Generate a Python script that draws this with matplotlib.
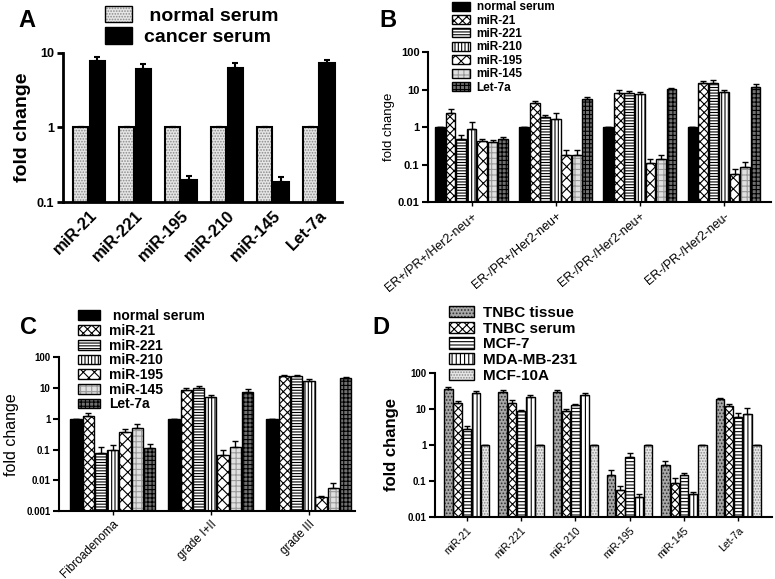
import numpy as np
import matplotlib
matplotlib.use("Agg")
import matplotlib.pyplot as plt
from matplotlib.patches import Patch
from matplotlib.legend_handler import HandlerTuple
from matplotlib.ticker import FixedLocator, NullLocator

plt.rcParams['font.family'] = ['Liberation Sans', 'DejaVu Sans']
plt.rcParams['hatch.linewidth'] = 0.8

# ---- Panel A data ----
a_cats = ['miR-21', 'miR-221', 'miR-195', 'miR-210', 'miR-145', 'Let-7a']
a_series = [' normal serum', 'cancer serum']
a_normal = [1, 1, 1, 1, 1, 1]
a_cancer = [7.8, 6.1, 0.195, 6.3, 0.185, 7.2]
a_normal_err = [0, 0, 0, 0, 0, 0]
a_cancer_err = [1.0, 0.95, 0.028, 0.9, 0.03, 0.7]

# ---- Panel B data ----
b_cats = ['ER+/PR+/Her2-neu+', 'ER-/PR+/Her2-neu+', 'ER-/PR-/Her2-neu+', 'ER-/PR-/Her2-neu-']
b_series = ['normal serum', 'miR-21', 'miR-221', 'miR-210', 'miR-195', 'miR-145', 'Let-7a']
b_vals = [
    [1, 1, 1, 1],
    [2.45, 4.3, 8.2, 14.6],
    [0.47, 1.9, 8.3, 15.0],
    [0.9, 1.63, 7.6, 8.6],
    [0.43, 0.18, 0.107, 0.055],
    [0.41, 0.18, 0.143, 0.087],
    [0.47, 5.5, 10.3, 11.9],
]
b_errs = [
    [0, 0, 0, 0],
    [0.5, 0.7, 1.5, 2.0],
    [0.15, 0.2, 1.0, 2.5],
    [0.45, 0.75, 1.2, 1.3],
    [0.05, 0.06, 0.03, 0.019],
    [0.05, 0.07, 0.04, 0.033],
    [0.07, 0.7, 1.0, 2.0],
]

# ---- Panel C data ----
c_cats = ['Fibroadenoma', 'grade I+II', 'grade III']
c_series = [' normal serum', 'miR-21', 'miR-221', 'miR-210', 'miR-195', 'miR-145', 'Let-7a']
c_vals = [
    [1, 1, 1],
    [1.24, 8.9, 24.5],
    [0.078, 9.8, 24.5],
    [0.098, 5.0, 17.5],
    [0.375, 0.066, 0.0028],
    [0.52, 0.12, 0.0055],
    [0.114, 7.4, 21.0],
]
c_errs = [
    [0, 0, 0],
    [0.36, 0.8, 2.5],
    [0.04, 2.1, 2.5],
    [0.042, 1.0, 1.5],
    [0.085, 0.029, 0.0003],
    [0.18, 0.07, 0.0025],
    [0.036, 1.8, 1.0],
]

# ---- Panel D data ----
d_cats = ['miR-21', 'miR-221', 'miR-210', 'miR-195', 'miR-145', 'Let-7a']
d_series = ['TNBC tissue', 'TNBC serum', 'MCF-7', 'MDA-MB-231', 'MCF-10A']
d_vals = [
    [36, 30, 30, 0.15, 0.28, 18.5],
    [15, 15, 9, 0.056, 0.09, 12.4],
    [2.8, 9, 12.5, 0.47, 0.15, 6.1],
    [28, 22, 24, 0.035, 0.044, 7.3],
    [1, 1, 1, 1, 1, 1],
]
d_errs = [
    [4, 4, 4, 0.05, 0.09, 2],
    [2, 2.5, 1, 0.018, 0.03, 1.5],
    [0.6, 0.6, 0.8, 0.13, 0.02, 1.5],
    [3, 2, 3, 0.008, 0.006, 3.1],
    [0, 0, 0, 0, 0, 0],
]

# bar looks: (face colour, hatch colour, hatch)
st_black = ('black', 'black', None)
st_stip = ('#e6e6e6', '#8a8a8a', '......')
st_check = ('white', 'black', 'xxxx')
st_hline = ('white', 'black', '------')
st_vline = ('white', 'black', '|||||')
st_diam = ('white', 'black', 'xxx')
st_brick = ('#e0e0e0', '#9a9a9a', '+++')
st_grid = ('#707070', 'black', '++++')
st_dark = ('#a8a8a8', '#303030', '.....')

bc_styles = [st_black, st_check, st_hline, st_vline, st_diam, st_brick, st_grid]
d_styles = [st_dark, st_check, ('white', 'black', '-----'), ('white', 'black', '||||'), st_stip]


def draw_groups(ax, vals, errs, styles, width, step, lw=1.2):
    n = len(vals)
    x = np.arange(len(vals[0]))
    for i in range(n):
        pos = x + (i - (n - 1) / 2) * step
        fc, hc, h = styles[i]
        ax.bar(pos, vals[i], width, color=fc, edgecolor=hc, hatch=h, linewidth=0, zorder=2)
        ax.bar(pos, vals[i], width, fill=False, edgecolor='black', linewidth=lw, zorder=3)
        e = np.array(errs[i], dtype=float)
        ax.errorbar(pos, vals[i], yerr=[np.zeros_like(e), e], fmt='none', ecolor='black',
                    elinewidth=lw, capsize=2.5, capthick=lw, zorder=4)


def handles(styles):
    out = []
    for fc, hc, h in styles:
        out.append((Patch(facecolor=fc, edgecolor=hc, hatch=h, linewidth=0),
                    Patch(fill=False, edgecolor='black', linewidth=1)))
    return out


def style_axes(ax, ticks, labels, ysize, lw=1.5):
    ax.set_yscale('log')
    ax.yaxis.set_major_locator(FixedLocator(ticks))
    ax.yaxis.set_minor_locator(NullLocator())
    ax.set_yticklabels(labels, fontweight='bold', fontsize=ysize)
    ax.set_ylim(ticks[0], ticks[-1])
    for s in ['top', 'right']:
        ax.spines[s].set_visible(False)
    for s in ['left', 'bottom']:
        ax.spines[s].set_linewidth(lw)
    ax.tick_params(axis='y', length=4, width=lw, pad=2)


hmap = {tuple: HandlerTuple(ndivide=1, pad=0)}

fig = plt.figure(figsize=(7.75, 5.79), dpi=100)

# Panel A
axA = fig.add_axes([0.081, 0.651, 0.360, 0.258])
draw_groups(axA, [a_normal, a_cancer], [a_normal_err, a_cancer_err], [st_stip, st_black], 0.33, 0.36, lw=1.5)
style_axes(axA, [0.1, 1, 10], ['0.1', '1', '10'], 9, lw=2)
axA.set_xlim(-0.57, 5.5)
axA.set_xticks(range(len(a_cats)))
axA.set_xticklabels(a_cats, rotation=45, ha='right', rotation_mode='anchor', fontsize=12, fontweight='bold')
axA.tick_params(axis='x', length=0, pad=4)
axA.set_ylabel('fold change', fontsize=14, fontweight='bold', labelpad=4)
axA.legend(handles([st_stip, st_black]), a_series, handler_map=hmap,
           loc='upper left', bbox_to_anchor=(0.135, 0.99), bbox_transform=fig.transFigure,
           frameon=False, borderpad=0, borderaxespad=0, handlelength=1.4, handleheight=0.9,
           handletextpad=0.6, labelspacing=0.15, prop={'weight': 'bold', 'size': 14})

# Panel B
axB = fig.add_axes([0.552, 0.651, 0.443, 0.259])
draw_groups(axB, b_vals, b_errs, bc_styles, 0.115, 0.125, lw=1.0)
style_axes(axB, [0.01, 0.1, 1, 10, 100], ['0.01', '0.1', '1', '10', '100'], 8, lw=1.5)
axB.set_xlim(-0.52, 3.56)
axB.set_xticks(range(len(b_cats)))
axB.set_xticklabels(b_cats, rotation=40, ha='right', rotation_mode='anchor', fontsize=9)
axB.tick_params(axis='x', length=3, width=1, pad=3)
axB.set_ylabel('fold change', fontsize=9.5, labelpad=2)
axB.legend(handles(bc_styles), b_series, handler_map=hmap,
           loc='upper left', bbox_to_anchor=(0.583, 0.998), bbox_transform=fig.transFigure,
           frameon=False, borderpad=0, borderaxespad=0, handlelength=1.5, handleheight=0.8,
           handletextpad=0.6, labelspacing=0.12, prop={'weight': 'bold', 'size': 8.5})

# Panel C
axC = fig.add_axes([0.076, 0.117, 0.382, 0.266])
draw_groups(axC, c_vals, c_errs, bc_styles, 0.115, 0.125, lw=1.0)
style_axes(axC, [0.001, 0.01, 0.1, 1, 10, 100], ['0.001', '0.01', '0.1', '1', '10', '100'], 7, lw=1.5)
axC.set_xlim(-0.55, 2.47)
axC.set_xticks(range(len(c_cats)))
axC.set_xticklabels(c_cats, rotation=45, ha='right', rotation_mode='anchor', fontsize=8.5)
axC.tick_params(axis='x', length=3, width=1, pad=2)
axC.set_ylabel('fold change', fontsize=11.5, labelpad=5)
axC.legend(handles(bc_styles), c_series, handler_map=hmap,
           loc='upper left', bbox_to_anchor=(0.10, 0.466), bbox_transform=fig.transFigure,
           frameon=False, borderpad=0, borderaxespad=0, handlelength=1.6, handleheight=0.7,
           handletextpad=0.7, labelspacing=0.05, prop={'weight': 'bold', 'size': 10})

# Panel D
axD = fig.add_axes([0.561, 0.107, 0.435, 0.249])
draw_groups(axD, d_vals, d_errs, d_styles, 0.155, 0.17, lw=1.0)
style_axes(axD, [0.01, 0.1, 1, 10, 100], ['0.01', '0.1', '1', '10', '100'], 7, lw=1.5)
axD.set_xlim(-0.59, 5.62)
axD.set_xticks(range(len(d_cats)))
axD.set_xticklabels(d_cats, rotation=45, ha='right', rotation_mode='anchor', fontsize=7.5)
axD.tick_params(axis='x', length=3, width=1, pad=3)
axD.set_ylabel('fold change', fontsize=12, fontweight='bold', labelpad=6)
axD.legend(handles(d_styles), d_series, handler_map=hmap,
           loc='upper left', bbox_to_anchor=(0.58, 0.472), bbox_transform=fig.transFigure,
           frameon=False, borderpad=0, borderaxespad=0, handlelength=1.6, handleheight=0.75,
           handletextpad=0.6, labelspacing=0.12, prop={'weight': 'bold', 'size': 11})

# panel letters
for lbl, x, y in [('A', 0.024, 0.985), ('B', 0.49, 0.985), ('C', 0.026, 0.455), ('D', 0.48, 0.455)]:
    fig.text(x, y, lbl, fontsize=17, fontweight='bold', va='top', ha='left')

fig.savefig('out.png', dpi=100)
